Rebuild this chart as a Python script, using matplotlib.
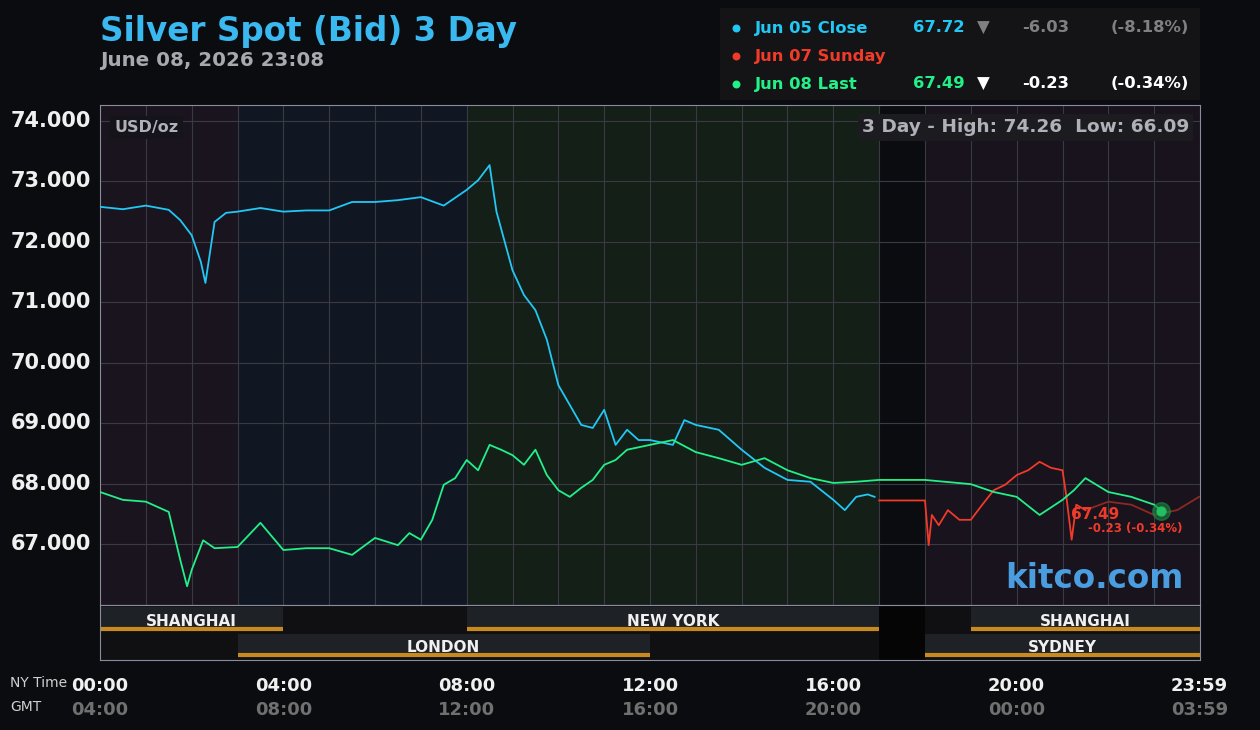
import matplotlib
matplotlib.use("Agg")
import matplotlib.pyplot as plt
import numpy as np

W, H = 1260, 730
BG = "#0b0c0f"

# ---- data (hours NY time, price) ----
jun05_t = [0,0.5,1,1.5,1.75,2,2.2,2.3,2.5,2.75,3,3.5,4,4.5,5,5.5,6,6.5,7,7.5,8,8.25,8.5,8.65,9,9.25,9.5,9.75,10,10.25,10.5,10.75,11,11.25,11.5,11.75,12,12.5,12.75,13,13.5,14,14.5,15,15.5,16,16.25,16.5,16.75,16.9]
jun05_p = [72.58,72.54,72.60,72.53,72.36,72.11,71.67,71.32,72.33,72.48,72.50,72.56,72.50,72.52,72.52,72.66,72.66,72.69,72.74,72.60,72.86,73.02,73.27,72.50,71.53,71.12,70.87,70.38,69.63,69.30,68.97,68.92,69.22,68.64,68.89,68.72,68.72,68.64,69.05,68.97,68.89,68.56,68.26,68.06,68.03,67.73,67.56,67.78,67.82,67.78]

jun08_t = [0,0.5,1,1.5,1.75,1.9,2,2.25,2.5,3,3.5,4,4.5,5,5.5,6,6.5,6.75,7,7.25,7.5,7.75,8,8.25,8.5,8.75,9,9.25,9.5,9.75,10,10.25,10.5,10.75,11,11.25,11.5,12,12.5,13,13.5,14,14.5,15,15.5,16,16.5,17,18,19,19.5,20,20.5,21,21.25,21.5,22,22.5,23,23.15]
jun08_p = [67.86,67.73,67.70,67.53,66.74,66.30,66.57,67.06,66.93,66.95,67.35,66.90,66.93,66.93,66.82,67.10,66.98,67.18,67.07,67.40,67.98,68.09,68.39,68.22,68.64,68.56,68.47,68.31,68.56,68.14,67.89,67.78,67.93,68.06,68.31,68.39,68.56,68.64,68.72,68.52,68.42,68.31,68.42,68.22,68.09,68.01,68.03,68.06,68.06,67.99,67.86,67.78,67.48,67.73,67.89,68.09,67.86,67.78,67.65,67.55]

jun07_t = [17,18,18.08,18.15,18.3,18.5,18.75,19,19.25,19.5,19.75,20,20.25,20.5,20.75,21,21.08,21.2,21.3,21.5,22,22.5,23,23.5,23.98]
jun07_p = [67.72,67.72,66.98,67.48,67.31,67.56,67.40,67.40,67.65,67.89,67.98,68.14,68.22,68.36,68.26,68.22,67.81,67.07,67.65,67.56,67.70,67.65,67.48,67.56,67.78]

yticks = [67, 68, 69, 70, 71, 72, 73, 74]
xticks_ny = ["00:00", "04:00", "08:00", "12:00", "16:00", "20:00", "23:59"]
xticks_gmt = ["04:00", "08:00", "12:00", "16:00", "20:00", "00:00", "03:59"]
xtick_pos = [0, 4, 8, 12, 16, 20, 23.983]

fig = plt.figure(figsize=(W/100, H/100), dpi=100, facecolor=BG)
plt.rcParams['font.family'] = ['DejaVu Sans']

def fx(px): return px / W
def fy(py): return 1 - py / H

ax = fig.add_axes([fx(100), fy(605), fx(1100), (605-105)/H])
ax.set_xlim(0, 24)
ax.set_ylim(65.99, 74.265)
ax.set_facecolor(BG)
for a, b, c in [(0, 3, "#1a141e"), (3, 8, "#111722"), (8, 17, "#141f17"), (17, 18, "#0b0c0f"), (18, 24, "#18131c")]:
    ax.axvspan(a, b, color=c, zorder=0, lw=0)
for h in range(1, 24):
    ax.axvline(h, color="#3a3a44", lw=0.8, zorder=1)
for y in yticks:
    ax.axhline(y, color="#3a3a44", lw=0.8, zorder=1)
ax.set_xticks([]); ax.set_yticks([])
for s in ax.spines.values():
    s.set_color("#8a8aa0"); s.set_linewidth(0.8)

ax.plot(jun05_t, jun05_p, color="#22c8f5", lw=1.3, zorder=3)
t7 = np.array(jun07_t); p7 = np.array(jun07_p)
m = t7 <= 21.5
ax.plot(t7[m], p7[m], color="#f03a2a", lw=1.3, zorder=3)
ax.plot(t7[t7 >= 21.5], p7[t7 >= 21.5], color="#8a2a22", lw=1.3, zorder=2)
ax.plot(jun08_t, jun08_p, color="#22f088", lw=1.3, zorder=4)
ax.scatter([jun08_t[-1]], [jun08_p[-1]], s=160, color="#1a8a44", alpha=0.6, zorder=5)
ax.scatter([jun08_t[-1]], [jun08_p[-1]], s=40, color="#22c060", zorder=6)

ax.text(0.013, 0.955, "USD/oz", transform=ax.transAxes, color="#b0b0b8", fontsize=11.5,
        fontweight="bold", va="center", ha="left",
        bbox=dict(facecolor="#14141a", edgecolor="none", pad=3))
ax.text(0.99, 0.955, "3 Day - High: 74.26  Low: 66.09", transform=ax.transAxes, color="#b0b0b8",
        fontsize=13.3, fontweight="bold", va="center", ha="right",
        bbox=dict(facecolor="#1c1c20", edgecolor="none", pad=3))
ax.text(21.18, 67.36, "67.49", color="#f03a2a", fontsize=11, fontweight="bold", ha="left", va="bottom", zorder=7)
ax.text(21.55, 67.36, "-0.23 (-0.34%)", color="#f03a2a", fontsize=8.5, fontweight="bold", ha="left", va="top", zorder=7)
ax.text(0.985, 0.02, "kitco.com", transform=ax.transAxes, color="#4a9ee0", fontsize=23.5,
        fontweight="bold", ha="right", va="bottom")

sx = fig.add_axes([fx(100), fy(660), fx(1100), 55/H])
sx.set_xlim(0, 24); sx.set_ylim(0, 55)
sx.set_facecolor("#101012")
sx.set_xticks([]); sx.set_yticks([])
for s in sx.spines.values():
    s.set_color("#8a8aa0"); s.set_linewidth(0.8)
sx.axvspan(17, 18, color="#050505", lw=0)
sessions_top = [("SHANGHAI", 0, 4), ("NEW YORK", 8, 17), ("SHANGHAI", 19, 24)]
sessions_bot = [("LONDON", 3, 12), ("SYDNEY", 18, 24)]
for name, a, b in sessions_top:
    sx.fill_between([a, b], 30, 53, color="#1e2126", lw=0)
    sx.plot([a, b], [31.5, 31.5], color="#c88a1e", lw=3, solid_capstyle="butt")
    sx.text((a+b)/2, 38.5, name, color="#f0f0f0", fontsize=11, fontweight="bold", ha="center", va="center")
for name, a, b in sessions_bot:
    sx.fill_between([a, b], 4, 26, color="#1e2126", lw=0)
    sx.plot([a, b], [5.5, 5.5], color="#c88a1e", lw=3, solid_capstyle="butt")
    sx.text((a+b)/2, 12.5, name, color="#f0f0f0", fontsize=11, fontweight="bold", ha="center", va="center")

for y in yticks:
    py = 121 + (74 - y) * 60.43
    fig.text(fx(91), fy(py), f"{y:.3f}", color="#f0f0f0", fontsize=15, fontweight="bold", ha="right", va="center")

for pos, a, b in zip(xtick_pos, xticks_ny, xticks_gmt):
    px = 100 + pos / 24 * 1100
    fig.text(fx(px), fy(686), a, color="#f0f0f0", fontsize=13, fontweight="bold", ha="center", va="center")
    fig.text(fx(px), fy(710), b, color="#707070", fontsize=13, fontweight="bold", ha="center", va="center")
fig.text(fx(10), fy(683), "NY Time", color="#d0d0d0", fontsize=10, va="center")
fig.text(fx(10), fy(707), "GMT", color="#d0d0d0", fontsize=10, va="center")

fig.text(fx(100), fy(31), "Silver Spot (Bid) 3 Day", color="#3ab8f0", fontsize=23.5, fontweight="bold", va="center")
fig.text(fx(100), fy(60), "June 08, 2026 23:08", color="#a8a8b0", fontsize=14.3, fontweight="bold", va="center")

lg = fig.add_axes([fx(720), fy(100), fx(480), 92/H])
lg.set_xlim(720, 1200); lg.set_ylim(100, 8)
lg.set_facecolor("#141416"); lg.set_xticks([]); lg.set_yticks([])
for s in lg.spines.values(): s.set_visible(False)
rows = [("Jun 05 Close", "#22c8f5", "67.72", "▼", "#808080", "-6.03", "(-8.18%)", "#808080"),
        ("Jun 07 Sunday", "#f03a2a", None, None, None, None, None, None),
        ("Jun 08 Last", "#22f088", "67.49", "▼", "#ffffff", "-0.23", "(-0.34%)", "#ffffff")]
for i, (lab, col, val, arr, acol, chg, pct, ccol) in enumerate(rows):
    y = 28 + 28 * i
    lg.scatter([736], [y], s=22, color=col)
    lg.text(755, y, lab, color=col, fontsize=11.8, fontweight="bold", va="center")
    if val:
        lg.text(965, y, val, color=col, fontsize=11.8, fontweight="bold", va="center", ha="right")
        lg.text(983, y, arr, color=acol, fontsize=12, va="center", ha="center")
        lg.text(1069, y, chg, color=ccol, fontsize=11.8, fontweight="bold", va="center", ha="right")
        lg.text(1189, y, pct, color=ccol, fontsize=11.8, fontweight="bold", va="center", ha="right")

fig.savefig("out.png", dpi=100, facecolor=BG)
